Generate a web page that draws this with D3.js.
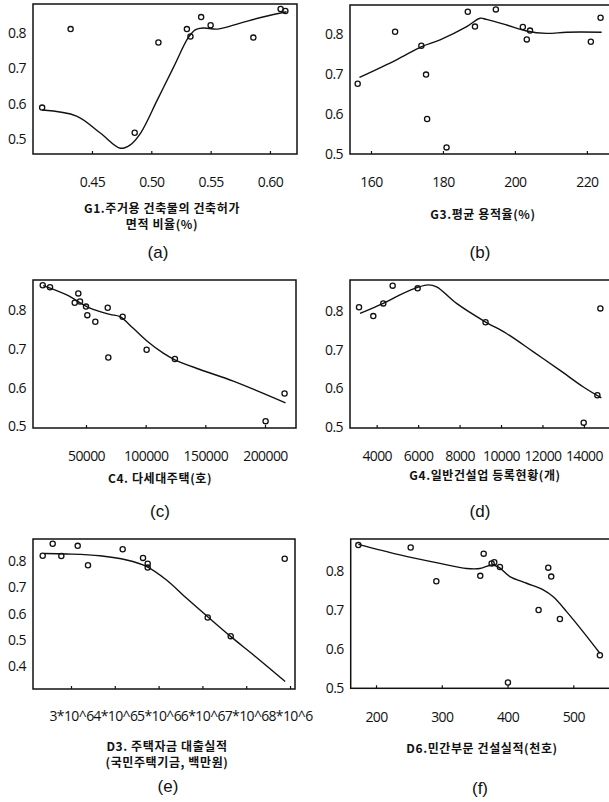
<!DOCTYPE html>
<html><head><meta charset="utf-8">
<script src="https://cdn.jsdelivr.net/npm/d3@7/dist/d3.min.js"></script>
<style>
html,body{margin:0;padding:0;background:#fff;overflow:hidden}
svg{display:block}
.tick{font-family:"Open Sans",sans-serif;font-size:14px;letter-spacing:-0.6px;fill:#111}
.ttl{font-family:"Noto Sans CJK KR",sans-serif;font-weight:700;font-size:12px;letter-spacing:0.6px;fill:#111}
.lbl{font-family:"Liberation Sans",Arial,sans-serif;font-size:17px;fill:#111}
</style></head><body>
<script>
// ---- data ----
const aPtsX = [0.408,0.432,0.486,0.506,0.530,0.533,0.542,0.550,0.586,0.609,0.613];
const aPtsY = [0.586,0.808,0.515,0.770,0.808,0.787,0.842,0.819,0.784,0.865,0.859];
const aFitX = [0.408,0.437,0.457,0.474,0.482,0.491,0.505,0.519,0.531,0.537,0.544,0.556,0.575,0.595,0.614];
const aFitY = [0.579,0.562,0.514,0.471,0.480,0.514,0.607,0.702,0.783,0.806,0.811,0.808,0.825,0.843,0.857];

const bPtsX = [156.3,166.7,174.0,175.3,175.6,181.0,186.9,188.9,194.7,202.2,203.3,204.2,221.1,223.8];
const bPtsY = [0.673,0.803,0.768,0.696,0.585,0.514,0.853,0.816,0.859,0.815,0.784,0.806,0.778,0.838];
const bFitX = [156.8,167.1,174.1,179.2,186.6,190.3,192.1,197.7,203.2,208.8,214.4,224.1];
const bFitY = [0.689,0.733,0.766,0.783,0.816,0.837,0.834,0.820,0.805,0.799,0.802,0.802];

const cPtsX = [13735,19850,40540,43550,44975,50000,51100,57800,68200,68700,80700,100800,124500,200500,216400];
const cPtsY = [0.861,0.856,0.816,0.840,0.819,0.806,0.784,0.767,0.803,0.675,0.780,0.695,0.671,0.511,0.582];
const cFitX = [14200,33840,53350,70100,78470,89600,100800,114740,124500,145500,173400,217200];
const cFitY = [0.860,0.836,0.802,0.786,0.780,0.750,0.718,0.686,0.669,0.644,0.614,0.558];

const dPtsX = [3147,3836,4318,4771,5976,9253,13990,14650,14795];
const dPtsY = [0.807,0.784,0.817,0.863,0.856,0.768,0.508,0.579,0.804];
const dFitX = [3195,4318,5123,6005,6487,6892,7855,9219,10265,11547,12834,13957,14843];
const dFitY = [0.791,0.817,0.839,0.859,0.865,0.860,0.817,0.770,0.739,0.692,0.644,0.601,0.572];

const ePtsX = [2.354e6,2.582e6,2.779e6,3.153e6,3.388e6,4.180e6,4.644e6,4.751e6,4.751e6,6.121e6,6.646e6,7.879e6];
const ePtsY = [0.816,0.862,0.815,0.854,0.780,0.841,0.808,0.786,0.771,0.581,0.510,0.805];
const eFitX = [2.39e6,2.90e6,3.66e6,4.27e6,4.73e6,5.18e6,5.64e6,6.12e6,6.65e6,7.16e6,7.89e6];
const eFitY = [0.825,0.823,0.816,0.800,0.775,0.724,0.654,0.584,0.508,0.439,0.337];

const fPtsX = [173.1,252.7,291.7,358.5,363.7,375.8,379.8,388.4,400.6,447.2,461.9,466.4,479.6,540.4];
const fPtsY = [0.864,0.858,0.771,0.785,0.842,0.817,0.820,0.808,0.511,0.697,0.806,0.783,0.674,0.581];
const fFitX = [173.1,236.5,297.3,337.8,358.1,375.8,385.9,403.6,429,454.3,469.5,489.8,515,540.4];
const fFitY = [0.866,0.839,0.817,0.804,0.804,0.813,0.808,0.783,0.766,0.749,0.731,0.693,0.641,0.586];

const aXTicks = [0.45,0.50,0.55,0.60];
const aXTickLabels = ["0.45","0.50","0.55","0.60"];
const bXTicks = [160,180,200,220];
const bXTickLabels = ["160","180","200","220"];
const cXTicks = [50000,100000,150000,200000];
const cXTickLabels = ["50000","100000","150000","200000"];
const dXTicks = [4000,6000,8000,10000,12000,14000];
const dXTickLabels = ["4000","6000","8000","10000","12000","14000"];
const eXTicks = [3e6,4e6,5e6,6e6,7e6,8e6];
const eXTickLabels = ["3*10^6","4*10^6","5*10^6","6*10^6","7*10^6","8*10^6"];
const fXTicks = [200,300,400,500];
const fXTickLabels = ["200","300","400","500"];

const yTicks4 = [0.5,0.6,0.7,0.8];
const yTicks5 = [0.4,0.5,0.6,0.7,0.8];

const aTitle = ["G1.주거용 건축물의 건축허가","면적 비율(%)"];
const bTitle = ["G3.평균 용적율(%)"];
const cTitle = ["C4. 다세대주택(호)"];
const dTitle = ["G4.일반건설업 등록현황(개)"];
const eTitle = ["D3. 주택자금 대출실적","(국민주택기금, 백만원)"];
const fTitle = ["D6.민간부문 건설실적(천호)"];
const panelLabels = ["(a)","(b)","(c)","(d)","(e)","(f)"];

// ---- layout ----
const panels = [
 {px:aPtsX,py:aPtsY,fx:aFitX,fy:aFitY,xd:[0.4003,0.6228],yd:[0.4547,0.879],x0:33,x1:297,y0:4,y1:154,
  xt:aXTicks,xl:aXTickLabels,yt:yTicks4,tly:181,title:aTitle,tx:162,ty:207,tls:16,lab:panelLabels[0],lx:158,ly:252},
 {px:bPtsX,py:bPtsY,fx:bFitX,fy:bFitY,xd:[154.17,226.7],yd:[0.4975,0.87],x0:350,x1:611,y0:5,y1:154,
  xt:bXTicks,xl:bXTickLabels,yt:yTicks4,tly:181,title:bTitle,tx:483,ty:213,tls:16,lab:panelLabels[1],lx:480,ly:252},
 {px:cPtsX,py:cPtsY,fx:cFitX,fy:cFitY,xd:[5585,225980],yd:[0.4933,0.8745],x0:33,x1:296,y0:280,y1:428,
  xt:cXTicks,xl:cXTickLabels,yt:yTicks4,tly:455,title:cTitle,tx:160,ty:477,tls:16,lab:panelLabels[2],lx:160,ly:511},
 {px:dPtsX,py:dPtsY,fx:dFitX,fy:dFitY,xd:[2712,15308],yd:[0.4941,0.8776],x0:350,x1:611,y0:280,y1:428,
  xt:dXTicks,xl:dXTickLabels,yt:yTicks4,tly:455,title:dTitle,tx:485,ty:474,tls:16,lab:panelLabels[3],lx:480,ly:511},
 {px:ePtsX,py:ePtsY,fx:eFitX,fy:eFitY,xd:[2.1324e6,8.114e6],yd:[0.3086,0.88],x0:33,x1:295,y0:539,y1:689,
  xt:eXTicks,xl:eXTickLabels,yt:yTicks5,tly:715,title:eTitle,tx:167,ty:745,tls:16,lab:panelLabels[4],lx:168,ly:786},
 {px:fPtsX,py:fPtsY,fx:fFitX,fy:fFitY,xd:[161.5,557.3],yd:[0.4959,0.8797],x0:350.7,x1:611,y0:539,y1:688.3,
  xt:fXTicks,xl:fXTickLabels,yt:yTicks4,tly:716,title:fTitle,tx:482,ty:747,tls:16,lab:panelLabels[5],lx:480,ly:788}
];

const svg = d3.select("body").append("svg").attr("width",609).attr("height",802);

panels.forEach(p=>{
  const x = d3.scaleLinear().domain(p.xd).range([p.x0,p.x1]);
  const y = d3.scaleLinear().domain(p.yd).range([p.y1,p.y0]);
  const g = svg.append("g");
  // frame
  g.append("rect").attr("x",p.x0).attr("y",p.y0).attr("width",p.x1-p.x0).attr("height",p.y1-p.y0)
    .attr("fill","none").attr("stroke","#111").attr("stroke-width",1.5);
  // x axis ticks
  const xa = d3.axisBottom(x).tickValues(p.xt).tickSize(-3).tickFormat((d,i)=>p.xl[i]);
  const gx = g.append("g").attr("transform",`translate(0,${p.y1})`).call(xa);
  gx.select(".domain").remove();
  gx.selectAll("line").attr("stroke","#111").attr("stroke-width",1.2);
  gx.selectAll("text").attr("class","tick").attr("y",0).attr("dy",null)
    .attr("transform",`translate(0,${p.tly-p.y1})`).attr("dominant-baseline","central")
    .attr("font-size",null).attr("font-family",null).attr("fill",null);
  // y axis
  const ya = d3.axisLeft(y).tickValues(p.yt).tickSize(0).tickPadding(7).tickFormat(d3.format(".1f"));
  const gy = g.append("g").attr("transform",`translate(${p.x0},0)`).call(ya);
  gy.select(".domain").remove();
  gy.selectAll("text").attr("class","tick").attr("dy",null).attr("dominant-baseline","central")
    .attr("font-size",null).attr("font-family",null).attr("fill",null);
  // fit line
  const line = d3.line().x(d=>x(d[0])).y(d=>y(d[1])).curve(d3.curveCatmullRom.alpha(0.5));
  g.append("path").datum(p.fx.map((v,i)=>[v,p.fy[i]])).attr("d",line)
    .attr("fill","none").attr("stroke","#111").attr("stroke-width",1.4);
  // points
  g.selectAll("circle").data(p.px.map((v,i)=>[v,p.py[i]])).join("circle")
    .attr("cx",d=>x(d[0])).attr("cy",d=>y(d[1])).attr("r",2.6)
    .attr("fill","none").attr("stroke","#111").attr("stroke-width",1.3);
  // title (one text element, lines as tspans)
  const tt = g.append("text").attr("class","ttl").attr("x",p.tx).attr("y",p.ty)
    .attr("text-anchor","middle").attr("dominant-baseline","central");
  p.title.forEach((t,i)=>{
    tt.append("tspan").attr("x",p.tx).attr("dy",i===0?0:p.tls).text(t);
  });
  g.append("text").attr("class","lbl").attr("x",p.lx).attr("y",p.ly)
    .attr("text-anchor","middle").attr("dominant-baseline","central").text(p.lab);
});
</script>
</body></html>
